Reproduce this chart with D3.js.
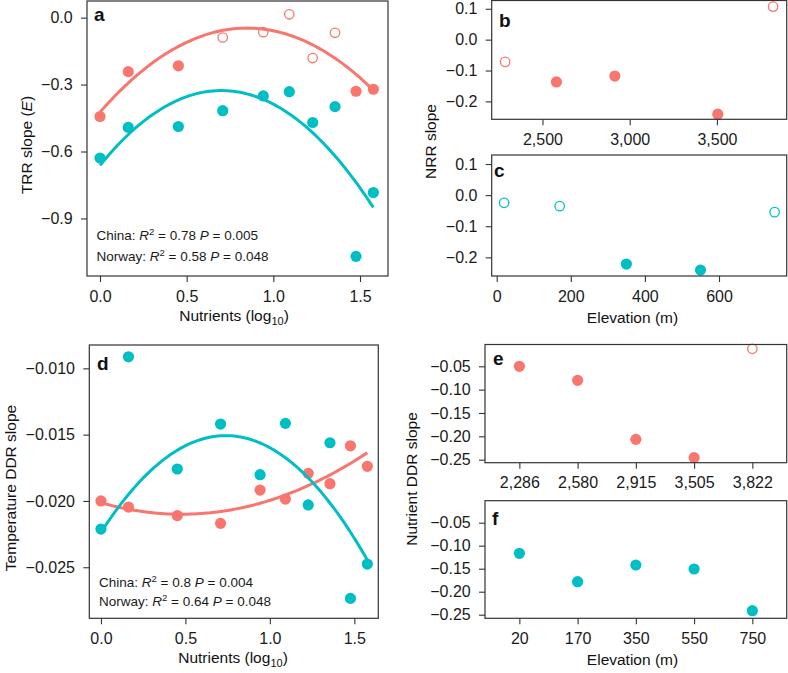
<!DOCTYPE html>
<html><head><meta charset="utf-8">
<script src="https://cdn.jsdelivr.net/npm/d3@7"></script>
<style>
body{margin:0;background:#fff}
svg{display:block}
text{font-family:"Liberation Sans",Arial,Helvetica,sans-serif}
</style>
</head><body>
<svg id="chart" width="788" height="673"></svg>
<script>
// ---------- data ----------
const nutrients = [0, 0.163, 0.452, 0.708, 0.942, 1.092, 1.227, 1.356, 1.477, 1.577];
const trrChina = [-0.443, -0.242, -0.216, -0.089, -0.065, 0.015, -0.181, -0.068, -0.330, -0.321];
const trrChinaSig = [true, true, true, false, false, false, false, false, true, true];
const trrNorway = [-0.629, -0.492, -0.488, -0.417, -0.351, -0.332, -0.470, -0.399, -1.070, -0.784];
const trrNorwaySig = [true, true, true, true, true, true, true, true, true, true];
const tddrChina = [-0.0200, -0.02046, -0.0211, -0.02169, -0.01918, -0.01986, -0.01792, -0.0187, -0.01584, -0.01739];
const tddrNorway = [-0.02212, -0.00913, -0.01759, -0.0142, -0.01802, -0.01415, -0.0203, -0.01561, -0.02735, -0.02476];
const allSig = [true, true, true, true, true, true, true, true, true, true];

// quadratic fits: [intercept, linear, quadratic]
const fitTrrChina = [-0.424, 0.8893, -0.5242];
const fitTrrNorway = [-0.662, 0.9569, -0.6828];
const fitTddrChina = [-0.02013, -0.0036575, 0.003835];
const fitTddrNorway = [-0.02237, 0.019745, -0.01336];

const elevChina = [2286, 2580, 2915, 3505, 3822];
const nrrChina = [-0.072, -0.137, -0.118, -0.2415, 0.107];
const nrrChinaSig = [false, true, true, true, false];
const elevNorway = [20, 170, 350, 550, 750];
const nrrNorway = [-0.0248, -0.0354, -0.2216, -0.241, -0.0547];
const nrrNorwaySig = [false, false, true, true, false];
const nddrChina = [-0.050, -0.0801, -0.2065, -0.2457, -0.0126];
const nddrChinaSig = [true, true, true, true, false];
const nddrNorway = [-0.1165, -0.1783, -0.1420, -0.1507, -0.2413];
const nddrNorwaySig = [true, true, true, true, true];

// ticks
const nutrientTicks = [0, 0.5, 1.0, 1.5];
const trrTicks = [0, -0.3, -0.6, -0.9];
const tddrTicks = [-0.010, -0.015, -0.020, -0.025];
const nrrTicks = [0.1, 0, -0.1, -0.2];
const elevChinaTicks = [2500, 3000, 3500];
const elevNorwayTicks = [0, 200, 400, 600];
const nddrTicks = [-0.05, -0.10, -0.15, -0.20, -0.25];

// ---------- style ----------
const RED = "#F8766D", CYAN = "#00BFC4";
const TICK_FS = 16, TITLE_FS = 15.5, ANN_FS = 13.5, LET_FS = 19;
const svg = d3.select("#chart");

function panel(c) {
  const g = svg.append("g");
  const xa = d3.axisBottom(c.x).tickValues(c.xTicks).tickSize(6).tickPadding(8.3).tickSizeOuter(0);
  if (c.xFmt) xa.tickFormat(c.xFmt);
  const ya = d3.axisLeft(c.y).tickValues(c.yTicks).tickSize(6).tickPadding(8.3).tickSizeOuter(0).tickFormat(c.yFmt);
  const gx = g.append("g").attr("transform", `translate(0,${c.y1})`).call(xa);
  const gy = g.append("g").attr("transform", `translate(${c.x0},0)`).call(ya);
  [gx, gy].forEach(a => {
    a.select(".domain").remove();
    a.selectAll("line").attr("stroke", "#333").attr("stroke-width", 1.1);
    a.selectAll("text").attr("fill", "#1a1a1a").style("font-size", TICK_FS + "px")
      .style("font-family", '"Liberation Sans",Arial,sans-serif');
  });
  c.g = g;
  return c;
}

function points(c, xs, ys, sig, color, xmap) {
  const d = xs.map((x, i) => ({ x, y: ys[i], s: sig[i] }));
  c.g.selectAll(null).data(d).enter().append("circle")
    .attr("cx", p => c.x(xmap ? xmap(p.x) : p.x))
    .attr("cy", p => c.y(p.y))
    .attr("r", p => p.s ? 5.6 : 4.7)
    .attr("fill", p => p.s ? color : "none")
    .attr("stroke", p => p.s ? "none" : color)
    .attr("stroke-width", 1.3);
}

function curve(c, coef, xmin, xmax, color) {
  const xsS = d3.range(0, 81).map(i => xmin + (xmax - xmin) * i / 80);
  const line = d3.line().x(v => c.x(v)).y(v => c.y(coef[0] + coef[1] * v + coef[2] * v * v));
  c.g.append("path").datum(xsS).attr("d", line).attr("fill", "none")
    .attr("stroke", color).attr("stroke-width", 3).attr("stroke-linecap", "butt");
}

function border(c) {
  c.g.append("rect").attr("x", c.x0).attr("y", c.y0).attr("width", c.x1 - c.x0).attr("height", c.y1 - c.y0)
    .attr("fill", "none").attr("stroke", "#333").attr("stroke-width", 1.2);
}

function letter(c, t, x, y) {
  c.g.append("text").attr("x", x).attr("y", y).text(t)
    .style("font-size", LET_FS + "px").style("font-weight", "bold").attr("fill", "#111");
}

function annot(c, x, y, name, r2, p) {
  const t = c.g.append("text").attr("x", x).attr("y", y).style("font-size", ANN_FS + "px").attr("fill", "#1a1a1a");
  t.append("tspan").text(name + ": ");
  t.append("tspan").style("font-style", "italic").text("R");
  t.append("tspan").attr("dy", -5).style("font-size", "9.5px").text("2");
  t.append("tspan").attr("dy", 5).text(" = " + r2 + " ");
  t.append("tspan").style("font-style", "italic").text("P");
  t.append("tspan").text(" = " + p);
}

function xTitleLog(x, y) {
  const t = svg.append("text").attr("x", x).attr("y", y).attr("text-anchor", "middle")
    .style("font-size", TITLE_FS + "px").attr("fill", "#111");
  t.append("tspan").text("Nutrients (log");
  t.append("tspan").attr("dy", 4).style("font-size", "11px").text("10");
  t.append("tspan").attr("dy", -4).text(")");
}
function xTitle(x, y, s) {
  svg.append("text").attr("x", x).attr("y", y).attr("text-anchor", "middle")
    .style("font-size", TITLE_FS + "px").attr("fill", "#111").text(s);
}
function yTitle(x, y, s, italicE) {
  const t = svg.append("text").attr("transform", `translate(${x},${y}) rotate(-90)`).attr("text-anchor", "middle")
    .style("font-size", TITLE_FS + "px").attr("fill", "#111");
  if (italicE) {
    t.append("tspan").text("TRR slope (");
    t.append("tspan").style("font-style", "italic").text("E");
    t.append("tspan").text(")");
  } else t.text(s);
}

const f1 = d3.format(".1f"), f2 = d3.format(".2f"), f3 = d3.format(".3f");

// ---------- panel a ----------
const A = panel({
  x0: 87, x1: 388, y0: 1, y1: 276,
  x: d3.scaleLinear().domain([-0.075, 1.6615]).range([87, 388]),
  y: d3.scaleLinear().domain([-1.158, 0.0746]).range([276, 1]),
  xTicks: nutrientTicks, yTicks: trrTicks, xFmt: f1, yFmt: f1
});
points(A, nutrients, trrChina, trrChinaSig, RED);
points(A, nutrients, trrNorway, trrNorwaySig, CYAN);
curve(A, fitTrrChina, 0, 1.577, RED);
curve(A, fitTrrNorway, 0, 1.577, CYAN);
border(A);
letter(A, "a", 94, 21);
annot(A, 96.5, 240, "China", "0.78", "0.005");
annot(A, 96.5, 260.5, "Norway", "0.58", "0.048");

// ---------- panel b ----------
const B = panel({
  x0: 491.7, x1: 786.7, y0: 0.5, y1: 119.3,
  x: d3.scaleLinear().domain([2209, 3900]).range([491.7, 786.7]),
  y: d3.scaleLinear().domain([-0.258, 0.1268]).range([119.3, 0.5]),
  xTicks: elevChinaTicks, yTicks: nrrTicks, xFmt: d3.format(","), yFmt: f1
});
points(B, elevChina, nrrChina, nrrChinaSig, RED);
border(B);
letter(B, "b", 499, 27);

// ---------- panel c ----------
const C = panel({
  x0: 491.7, x1: 786.7, y0: 155, y1: 276,
  x: d3.scaleLinear().domain([-13.5, 782.7]).range([491.7, 786.7]),
  y: d3.scaleLinear().domain([-0.260, 0.129]).range([276, 155]),
  xTicks: elevNorwayTicks, yTicks: nrrTicks, xFmt: d3.format("d"), yFmt: f1
});
points(C, elevNorway, nrrNorway, nrrNorwaySig, CYAN);
border(C);
letter(C, "c", 494, 177);

// ---------- panel d ----------
const D = panel({
  x0: 89.3, x1: 378.3, y0: 345, y1: 618.3,
  x: d3.scaleLinear().domain([-0.069, 1.642]).range([89.3, 378.3]),
  y: d3.scaleLinear().domain([-0.02885, -0.00824]).range([618.3, 345]),
  xTicks: nutrientTicks, yTicks: tddrTicks, xFmt: f1, yFmt: f3
});
points(D, nutrients, tddrChina, allSig, RED);
points(D, nutrients, tddrNorway, allSig, CYAN);
curve(D, fitTddrChina, 0, 1.577, RED);
curve(D, fitTddrNorway, 0, 1.577, CYAN);
border(D);
letter(D, "d", 97, 370);
annot(D, 99, 586.5, "China", "0.8", "0.004");
annot(D, 99, 606, "Norway", "0.64", "0.048");

// ---------- panel e ----------
const E = panel({
  x0: 485, x1: 786.7, y0: 344.5, y1: 462.7,
  x: d3.scalePoint().domain(elevChina.map(d3.format(","))).range([485, 786.7]).padding(0.59),
  y: d3.scaleLinear().domain([-0.2565, -0.0033]).range([462.7, 344.5]),
  xTicks: elevChina.map(d3.format(",")), yTicks: nddrTicks, xFmt: null, yFmt: f2
});
points(E, elevChina, nddrChina, nddrChinaSig, RED, d3.format(","));
border(E);
letter(E, "e", 493, 365);

// ---------- panel f ----------
const F = panel({
  x0: 485, x1: 786.7, y0: 500.7, y1: 618.3,
  x: d3.scalePoint().domain(elevNorway.map(String)).range([485, 786.7]).padding(0.59),
  y: d3.scaleLinear().domain([-0.2578, -0.0022]).range([618.3, 500.7]),
  xTicks: elevNorway.map(String), yTicks: nddrTicks, xFmt: null, yFmt: f2
});
points(F, elevNorway, nddrNorway, nddrNorwaySig, CYAN, String);
border(F);
letter(F, "f", 492, 525);

// ---------- axis titles ----------
xTitleLog(234, 320.7);
xTitle(632.5, 323.3, "Elevation (m)");
xTitleLog(233, 663);
xTitle(632.5, 665, "Elevation (m)");
yTitle(31.5, 145, "TRR slope (E)", true);
yTitle(436, 141.5, "NRR slope");
yTitle(15.5, 488, "Temperature DDR slope");
yTitle(417, 479, "Nutrient DDR slope");
</script>
</body></html>
